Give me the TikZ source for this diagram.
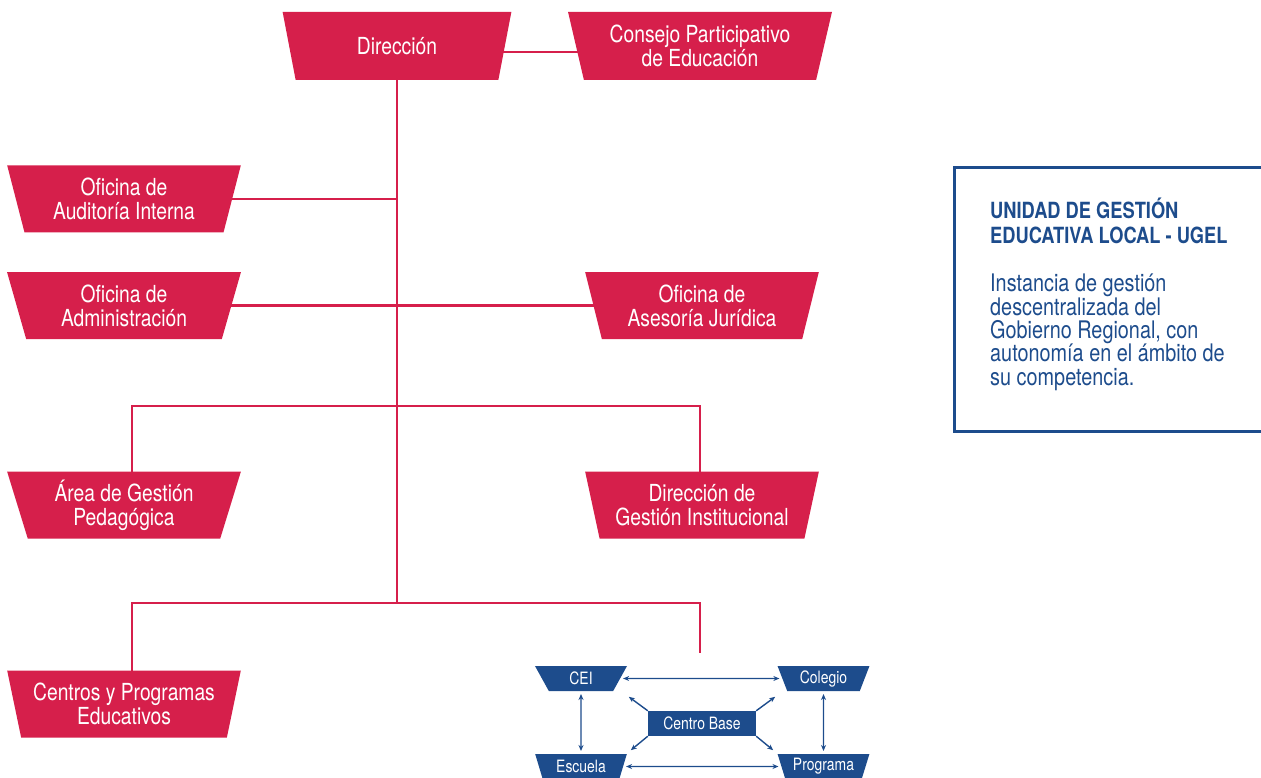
\documentclass[tikz,border=0pt]{standalone}
\usepackage{fontspec}
\setmainfont{TeX Gyre Heros}[FakeStretch=0.82]
\usetikzlibrary{shapes.geometric,arrows.meta,backgrounds}
\definecolor{ugelred}{HTML}{D61F4B}
\definecolor{ugelblue}{HTML}{1D4C8C}
\tikzset{
	office/.style={trapezium, trapezium stretches=true, shape border rotate=180,
		trapezium left angle=73.6, trapezium right angle=73.6,
		minimum width=234pt, minimum height=67pt, inner sep=0pt, outer sep=0pt,
		fill=ugelred, text=white, align=center, font=\fontsize{23.5}{24}\selectfont},
	school/.style={trapezium, trapezium stretches=true, shape border rotate=180,
		trapezium left angle=69, trapezium right angle=69,
		minimum width=92pt, minimum height=25pt, inner sep=0pt, outer sep=0pt,
		fill=ugelblue, text=white, font=\fontsize{17}{17}\selectfont},
	link/.style={draw=ugelred, line width=2.6pt},
	both/.style={draw=ugelblue, line width=1.4pt, shorten <=3pt, shorten >=3pt,
		{Stealth[length=6pt,width=5pt]}-{Stealth[length=6pt,width=5pt]}},
	spoke/.style={draw=ugelblue, line width=1.4pt, -{Stealth[length=6pt,width=5pt]}}
}
\begin{document}
\begin{tikzpicture}[x=1pt,y=-1pt]
	\useasboundingbox (0,0) rectangle (1261,778);
	\node[office, minimum width=230pt, minimum height=68pt] (dir) at (397,46) {Dirección};
	\node[office, minimum width=264pt, minimum height=68pt] (consejo) at (700,46) {Consejo Participativo\\de Educación};
	\node[office] (audit) at (124,199) {Oficina de\\Auditoría Interna};
	\node[office] (admin) at (124,305.5) {Oficina de\\Administración};
	\node[office] (juridica) at (702,305.5) {Oficina de\\Asesoría Jurídica};
	\node[office] (pedagog) at (124,505) {Área de Gestión\\Pedagógica};
	\node[office] (instit) at (702,505) {Dirección de\\Gestión Institucional};
	\node[office] (centros) at (124,704) {Centros y Programas\\Educativos};
	\coordinate (bar1l) at (132,406);
	\coordinate (bar1r) at (700,406);
	\coordinate (bar2l) at (132,603);
	\coordinate (bar2r) at (700,603);
	\coordinate (bar2end) at (700,653);
	\begin{scope}[on background layer]
		\draw[link] (dir.center) -- (dir.center |- bar2l);
		\draw[link] ([yshift=-6pt]dir.center) -- ([yshift=-6pt]consejo.center);
		\draw[link] (audit.center) -- (audit.center -| dir.center);
		\draw[link] (admin.center) -- (juridica.center);
		\draw[link] (pedagog.center -| bar1l) -- (bar1l) -- (bar1r) -- (instit.center -| bar1r);
		\draw[link] (centros.center -| bar2l) -- (bar2l) -- (bar2r) -- (bar2end);
	\end{scope}
	% schools
	\node[school] (cei) at (581,678.5) {CEI};
	\node[school] (colegio) at (823.5,678.5) {Colegio};
	\node[school] (escuela) at (581,766.5) {Escuela};
	\node[school] (programa) at (823.5,766.5) {Programa};
	\node[fill=ugelblue, text=white, minimum width=108pt, minimum height=25pt, inner sep=0pt,
		font=\fontsize{17}{17}\selectfont] (base) at (702,723.5) {Centro Base};
	\draw[both] (cei) -- (colegio);
	\draw[both] (escuela) -- (programa);
	\draw[both] (cei) -- (escuela);
	\draw[both] (colegio) -- (programa);
	\draw[spoke] (base.north west) -- ++(-19,-14);
	\draw[spoke] (base.north east) -- ++(19,-14);
	\draw[spoke] (base.south west) -- ++(-17,14);
	\draw[spoke] (base.south east) -- ++(17,14);
	% side note
	\node[draw=ugelblue, line width=3pt, minimum width=340pt, minimum height=264pt,
		inner sep=0pt, anchor=north west] (ugel) at (953,166) {};
	\node[anchor=base west, align=left, inner sep=0pt, text=ugelblue,
		font=\bfseries\fontsize{22.3}{24.3}\selectfont] (ugeltitle) at (990,243.3) {UNIDAD DE GESTIÓN\\EDUCATIVA LOCAL - UGEL};
	\node[anchor=base west, align=left, inner sep=0pt, text=ugelblue,
		font=\fontsize{24.2}{23.3}\selectfont] (ugeltext) at (990,385) {Instancia de gestión\\descentralizada del\\Gobierno Regional, con\\autonomía en el ámbito de\\su competencia.};
\end{tikzpicture}
\end{document}
